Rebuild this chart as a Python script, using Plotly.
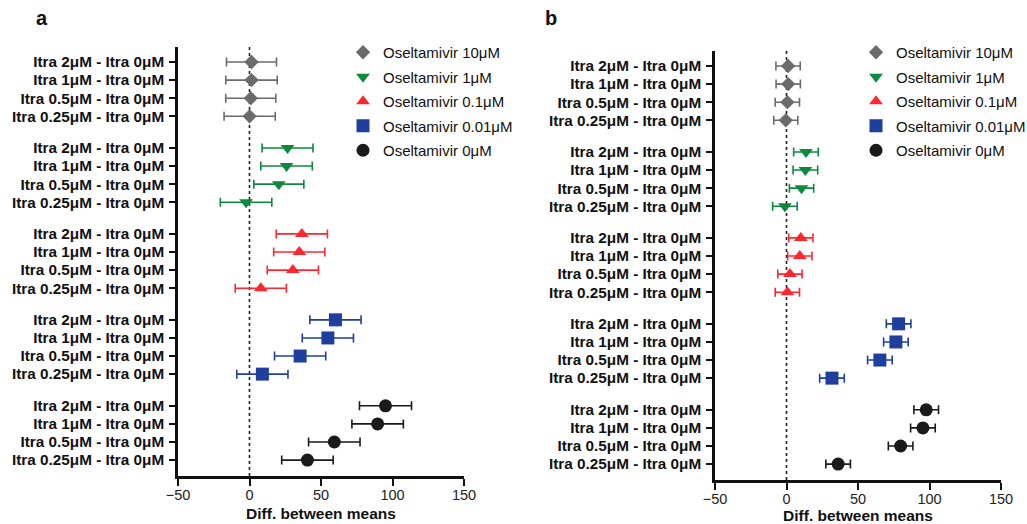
import plotly.graph_objects as go

# ---- data ----
row_labels = ["Itra 2μM - Itra 0μM", "Itra 1μM - Itra 0μM",
              "Itra 0.5μM - Itra 0μM", "Itra 0.25μM - Itra 0μM"]
series_names = ["Oseltamivir 10μM", "Oseltamivir 1μM", "Oseltamivir 0.1μM",
                "Oseltamivir 0.01μM", "Oseltamivir 0μM"]

# panel a: mean differences and CI half-widths
a_osel10 = [1.4, 1.4, 0.9, 0.1]
a_osel10_err = [17.5, 18.0, 17.5, 17.9]
a_osel1 = [26.6, 25.9, 20.5, -2.4]
a_osel1_err = [17.8, 18.0, 17.5, 18.0]
a_osel01 = [36.6, 34.8, 30.3, 7.9]
a_osel01_err = [17.9, 17.9, 17.9, 17.9]
a_osel001 = [60.1, 54.8, 35.4, 9.0]
a_osel001_err = [17.9, 17.9, 17.9, 17.9]
a_osel0 = [95.1, 89.6, 59.3, 40.5]
a_osel0_err = [18.2, 18.0, 18.0, 18.0]

# panel b
b_osel10 = [1.1, 1.2, 0.6, -0.5]
b_osel10_err = [8.5, 8.5, 8.5, 8.4]
b_osel1 = [13.6, 13.2, 10.5, -1.1]
b_osel1_err = [8.6, 8.6, 8.5, 8.6]
b_osel01 = [10.0, 9.3, 2.4, 0.6]
b_osel01_err = [8.5, 8.5, 8.5, 8.5]
b_osel001 = [78.4, 76.5, 65.3, 31.8]
b_osel001_err = [8.6, 8.6, 8.6, 8.6]
b_osel0 = [97.7, 95.4, 79.8, 36.1]
b_osel0_err = [8.6, 8.6, 8.6, 8.6]

x_ticks = [-50, 0, 50, 100, 150]

# ---- styles ----
colors = ["#6b6b6b", "#0b8a3e", "#ff2630", "#1f3f9f", "#1a1a1a"]
symbols = ["diamond", "triangle-down", "triangle-up", "square", "circle"]
sizes = [11, 12, 12, 13, 13]
GROUP_STEP = 4.75
FONT = "Liberation Sans, Arial, sans-serif"

panel_a = [(a_osel10, a_osel10_err), (a_osel1, a_osel1_err), (a_osel01, a_osel01_err),
           (a_osel001, a_osel001_err), (a_osel0, a_osel0_err)]
panel_b = [(b_osel10, b_osel10_err), (b_osel1, b_osel1_err), (b_osel01, b_osel01_err),
           (b_osel001, b_osel001_err), (b_osel0, b_osel0_err)]

fig = go.Figure()
tickvals, ticktext = [], []
for g in range(5):
    for i, lab in enumerate(row_labels):
        tickvals.append(g * GROUP_STEP + i)
        ticktext.append(lab)

for panel, (xa, ya, leg) in zip([panel_a, panel_b], [("x", "y", "legend"), ("x2", "y2", "legend2")]):
    for g, (vals, errs) in enumerate(panel):
        ys = [g * GROUP_STEP + i for i in range(len(vals))]
        fig.add_trace(go.Scatter(
            x=vals, y=ys, mode="markers", name=series_names[g],
            xaxis=xa, yaxis=ya, legend=leg, legendgroup=f"{leg}{g}",
            marker=dict(symbol=symbols[g], size=sizes[g], color=colors[g]),
            error_x=dict(type="data", array=errs, symmetric=True, color=colors[g],
                         thickness=1.6, width=4.5),
        ))

axis_font = dict(family=FONT, size=14.5, color="#222")
common_x = dict(range=[-50, 150], tickvals=x_ticks, showline=True, linewidth=2.5,
                linecolor="#111", ticks="outside", ticklen=7, tickwidth=2.2, tickcolor="#111",
                showgrid=False, zeroline=False, tickfont=axis_font, automargin=False,
                ticklabelstandoff=-3,
                title=dict(text="Diff. between means", standoff=6,
                           font=dict(family=FONT, size=15.5, color="#111", weight="bold")))
common_y = dict(range=[22.88, -0.83], tickvals=tickvals, ticktext=ticktext, showline=True,
                linewidth=2.5, linecolor="#111", ticks="outside", ticklen=6, tickwidth=2.2,
                tickcolor="#111", showgrid=False, zeroline=False, automargin=False,
                ticklabelstandoff=2,
                tickfont=dict(family=FONT, size=15.3, color="#111", weight="bold"))

legend_common = dict(yanchor="top", xanchor="left",
                     font=dict(family=FONT, size=15, color="#111"),
                     tracegroupgap=2, bgcolor="rgba(0,0,0,0)")

fig.update_layout(
    width=1027, height=524, margin=dict(l=0, r=0, t=0, b=0, autoexpand=False),
    paper_bgcolor="white", plot_bgcolor="white",
    xaxis=dict(domain=[178 / 1027, 464 / 1027], anchor="y", **common_x),
    yaxis=dict(domain=[1 - 476 / 524, 1 - 47 / 524], anchor="x", **common_y),
    xaxis2=dict(domain=[715 / 1027, 1001 / 1027], anchor="y2", **common_x),
    yaxis2=dict(domain=[1 - 480 / 524, 1 - 51 / 524], anchor="x2", **common_y),
    legend=dict(x=343 / 1027, y=1 - 36 / 524, **legend_common),
    legend2=dict(x=856 / 1027, y=1 - 36 / 524, **legend_common),
    showlegend=True,
)

for xr, yr in [("x", "y domain"), ("x2", "y2 domain")]:
    fig.add_shape(type="line", xref=xr, yref=yr, x0=0, x1=0, y0=0, y1=1,
                  line=dict(color="#222", width=1.6, dash="dot"), layer="below")

for txt, px in [("a", 42), ("b", 551)]:
    fig.add_annotation(text=txt, x=px / 1027, y=1 - 18 / 524, xref="paper", yref="paper",
                       showarrow=False, xanchor="center", yanchor="middle",
                       font=dict(family=FONT, size=20, color="#111", weight="bold"))

fig.write_html("out.html", config={"displayModeBar": False},
               post_script="document.body.style.margin='0px';document.body.style.overflow='hidden';")
